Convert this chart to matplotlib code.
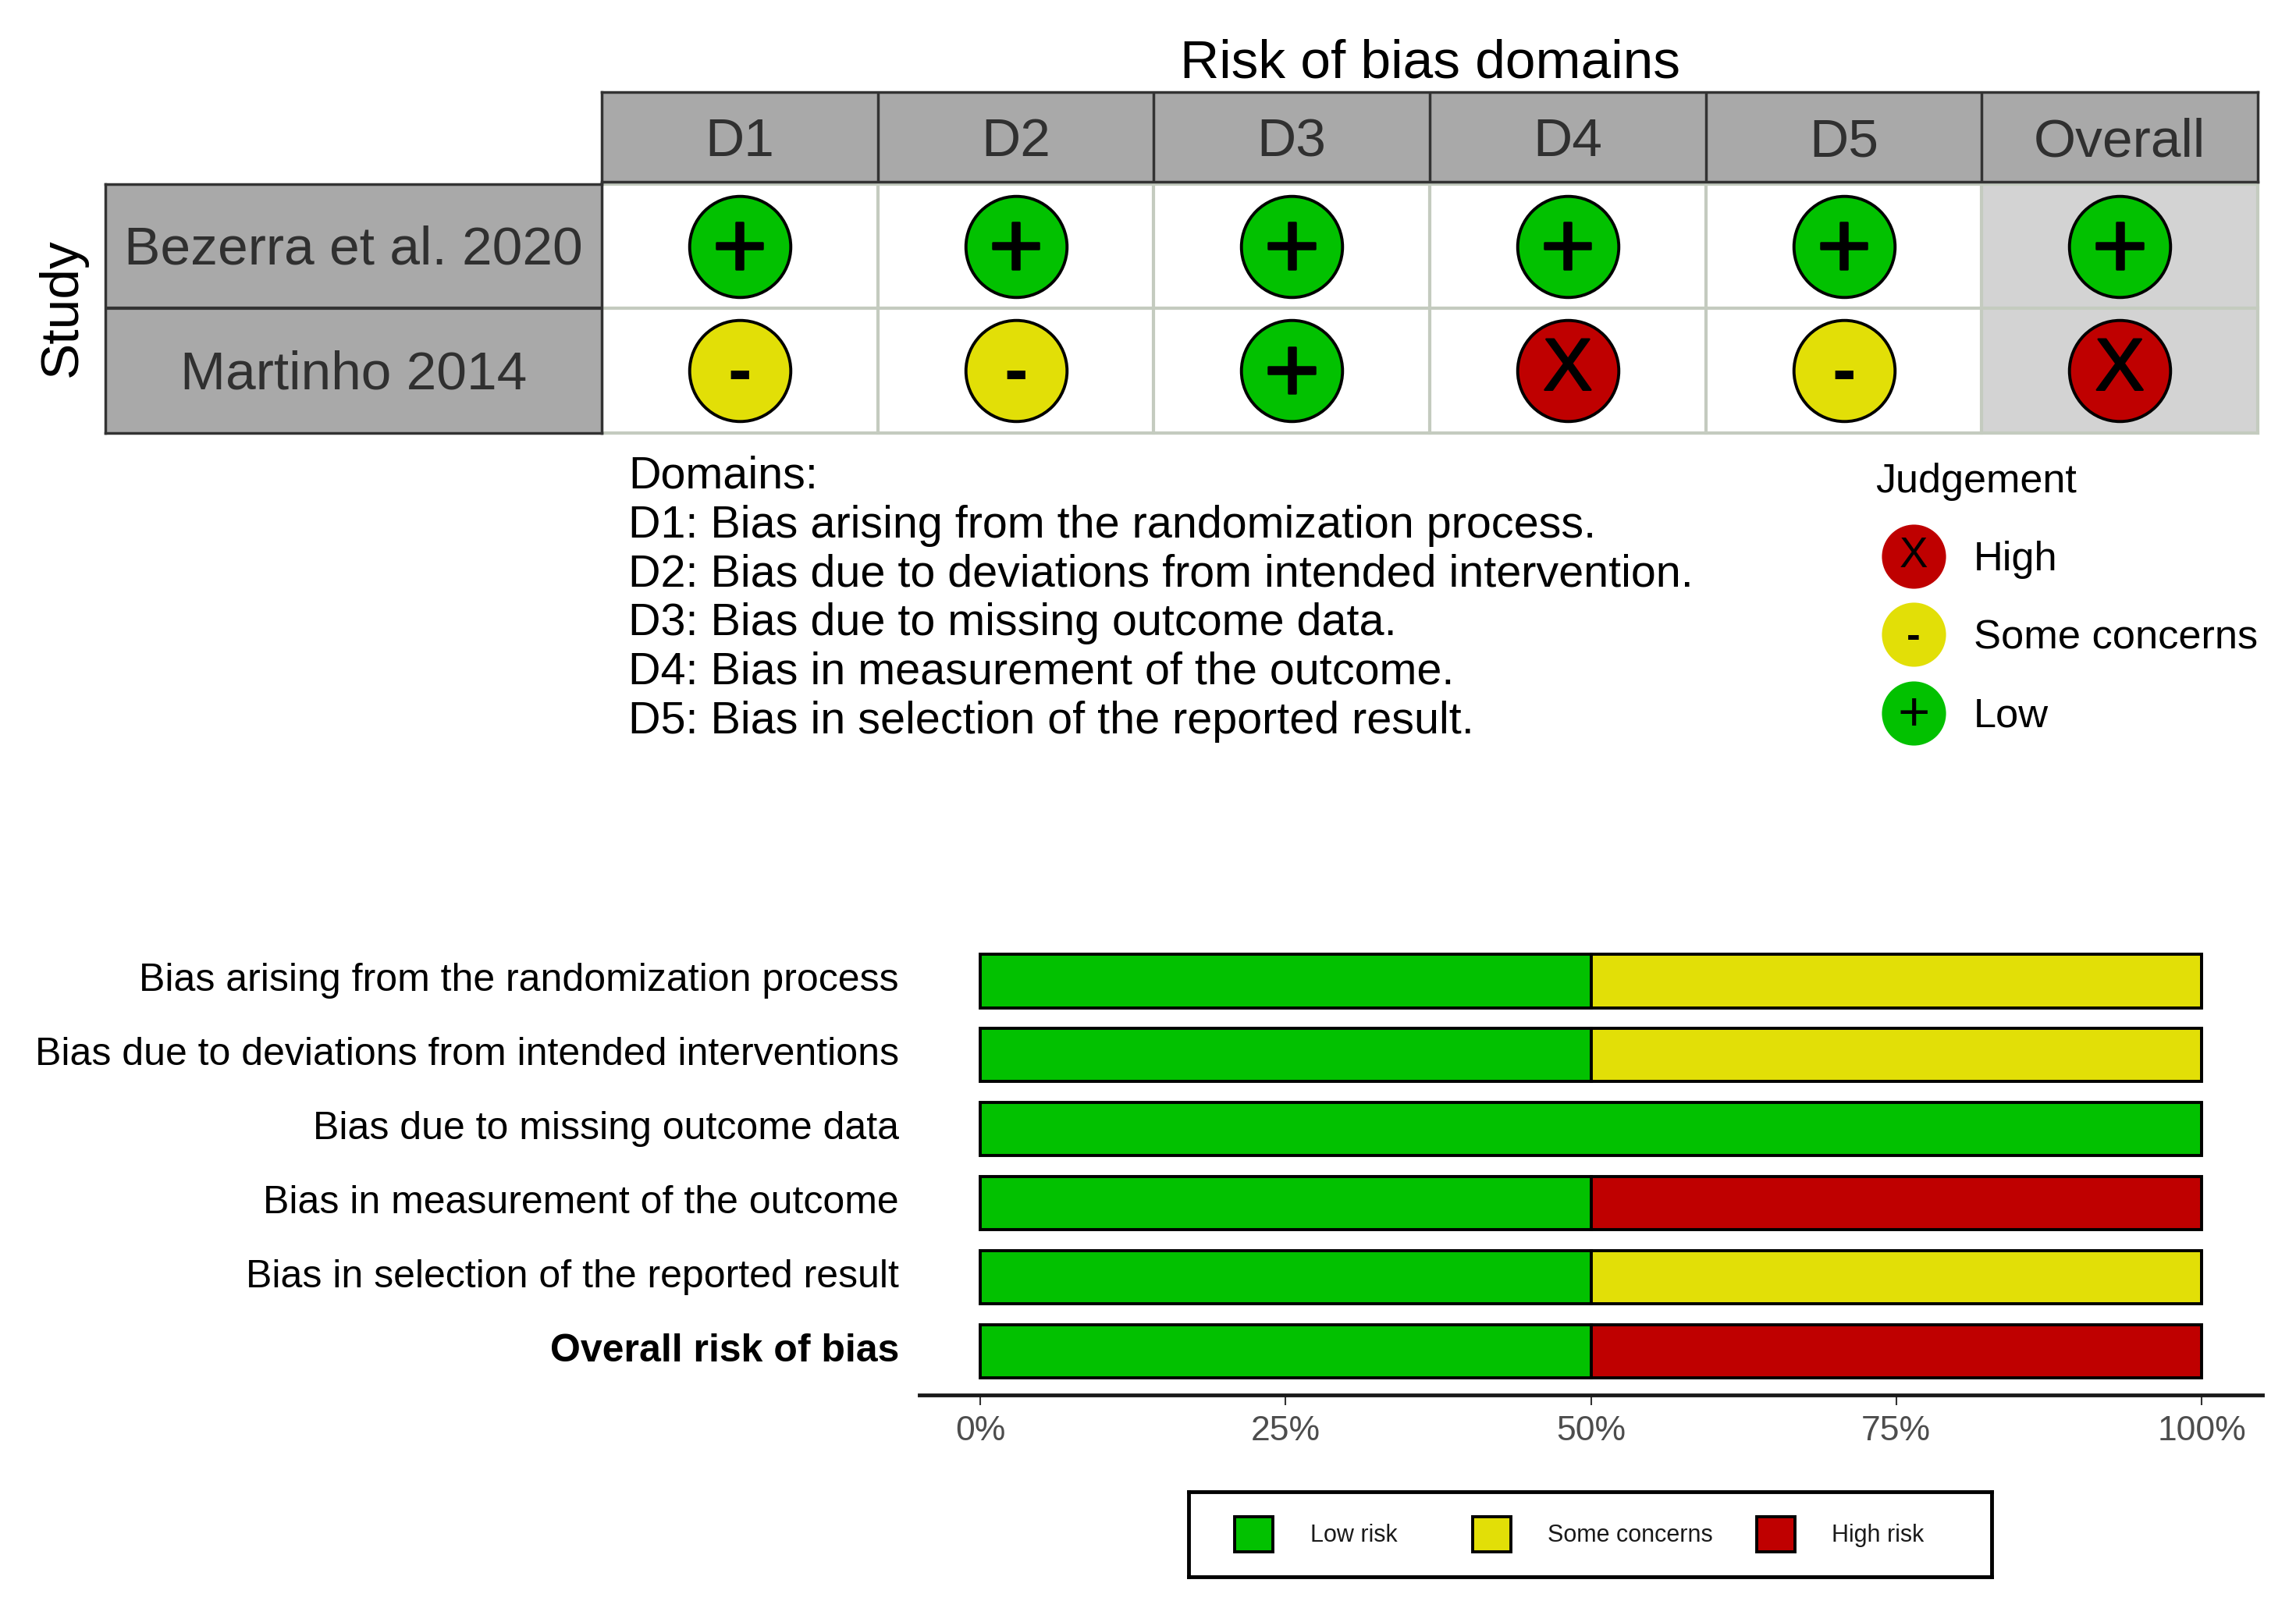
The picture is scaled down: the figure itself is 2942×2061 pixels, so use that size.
import matplotlib
matplotlib.use("Agg")
import matplotlib.pyplot as plt
import matplotlib.patheffects as pe
from matplotlib.patches import Rectangle
from matplotlib.transforms import ScaledTranslation

plt.rcParams["font.family"] = ["Liberation Sans", "DejaVu Sans"]

W, H = 2942, 2061

# -----------------------------
# Data
# -----------------------------
domains = ["D1", "D2", "D3", "D4", "D5", "Overall"]
studies = ["Bezerra et al. 2020", "Martinho 2014"]
judgements = [
    ["Low", "Low", "Low", "Low", "Low", "Low"],
    ["Some", "Some", "Low", "High", "Some", "High"],
]
domain_notes = [
    "Domains:",
    "D1: Bias arising from the randomization process.",
    "D2: Bias due to deviations from intended intervention.",
    "D3: Bias due to missing outcome data.",
    "D4: Bias in measurement of the outcome.",
    "D5: Bias in selection of the reported result.",
]
judge_levels = ["High", "Some", "Low"]
judge_labels = ["High", "Some concerns", "Low"]

bar_labels = [
    "Bias arising from the randomization process",
    "Bias due to deviations from intended interventions",
    "Bias due to missing outcome data",
    "Bias in measurement of the outcome",
    "Bias in selection of the reported result",
    "Overall risk of bias",
]
low_pct = [50, 50, 100, 50, 50, 50]
some_pct = [50, 50, 0, 0, 50, 0]
high_pct = [0, 0, 0, 50, 0, 50]
pct_ticks = [0, 25, 50, 75, 100]
bar_legend = ["Low risk", "Some concerns", "High risk"]

colours = {"Low": "#02C100", "Some": "#E2DF07", "High": "#BF0000"}
symbols = {"Low": "+", "Some": "-", "High": "X"}
symbol_shift = {"Low": 0.05, "Some": 0.035, "High": 0.0}
symbol_size = {"Low": 88, "Some": 66, "High": 68}
symbol_weight = {"Low": "normal", "Some": "bold", "High": "normal"}


def px_axes(x0, y0, x1, y1):
    # axes from pixel box, y measured from the top of the picture
    return fig.add_axes([x0 / W, 1 - y1 / H, (x1 - x0) / W, (y1 - y0) / H])


def px_text(x, y, s, **kw):
    fig.text(x / W, 1 - y / H, s, **kw)


fig = plt.figure(figsize=(W / 100, H / 100), dpi=100, facecolor="white")

# -----------------------------
# 1. Traffic light grid
# -----------------------------
ax = px_axes(771, 236, 2893, 555)
ax.set_xlim(0, len(domains))
ax.set_ylim(len(studies), 0)
ax.axis("off")
ax.add_patch(Rectangle((5, 0), 1, 2, facecolor="#D3D3D3", edgecolor="none"))
for i in range(len(domains) + 1):
    ax.axvline(i, color="#C4CBBF", lw=3, clip_on=False)
for j in range(len(studies) + 1):
    ax.axhline(j, color="#C4CBBF", lw=3, clip_on=False)

for r, row in enumerate(judgements):
    for c, level in enumerate(row):
        ax.scatter(c + 0.5, r + 0.5, s=8700, color=colours[level],
                   edgecolor="black", linewidth=2.8, zorder=3)
        t = ax.text(c + 0.5, r + 0.5 + symbol_shift[level], symbols[level], ha="center",
                    va="center", fontsize=symbol_size[level], fontweight=symbol_weight[level],
                    color="black", zorder=4)
        # thicken the regular glyphs a little, plain bold is too heavy
        if symbol_weight[level] == "normal":
            t.set_path_effects([pe.withStroke(linewidth=1.8, foreground="black")])

# header strip
ax_head = px_axes(771, 118, 2893, 233)
ax_head.set_xlim(0, len(domains))
ax_head.set_ylim(0, 1)
ax_head.set_xticks([])
ax_head.set_yticks([])
ax_head.set_facecolor("#A9A9A9")
for s in ax_head.spines.values():
    s.set_color("#333333")
    s.set_linewidth(2.5)
for i, d in enumerate(domains):
    if i > 0:
        ax_head.axvline(i, color="#333333", lw=2.5)
    ax_head.text(i + 0.5, 0.44, d, ha="center", va="center", fontsize=50, color="#303030")

# study strip
ax_side = px_axes(135, 236, 771, 555)
ax_side.set_xlim(0, 1)
ax_side.set_ylim(len(studies), 0)
ax_side.set_xticks([])
ax_side.set_yticks([])
ax_side.set_facecolor("#A9A9A9")
for s in ax_side.spines.values():
    s.set_color("#333333")
    s.set_linewidth(2.5)
for j, name in enumerate(studies):
    if j > 0:
        ax_side.axhline(j, color="#333333", lw=3)
    ax_side.text(0.5, j + 0.53, name, ha="center", va="center", fontsize=50, color="#303030")

px_text(1833, 82, "Risk of bias domains", ha="center", va="center", fontsize=50, color="black")
px_text(80, 394, "Study", ha="center", va="center", rotation=90, fontsize=50, color="black")

# domain notes
for k, line in enumerate(domain_notes):
    px_text(805, 611 + k * 62.7, line, ha="left", va="center", fontsize=41.4, color="black")

# judgement legend
px_text(2403, 617, "Judgement", ha="left", va="center", fontsize=37.5, color="black")
ax_judge = px_axes(2411, 663, 2493, 964)
ax_judge.set_xlim(0, 1)
ax_judge.set_ylim(len(judge_levels), 0)
ax_judge.axis("off")
for k, level in enumerate(judge_levels):
    ax_judge.scatter(0.5, k + 0.5, s=3500, color=colours[level], linewidth=0, clip_on=False)
    ax_judge.text(0.5, k + 0.5 + symbol_shift[level] * 0.9, symbols[level], ha="center", va="center",
                  fontsize=symbol_size[level] * 0.58, fontweight=symbol_weight[level], color="black")
    ax_judge.annotate(judge_labels[k], (1, k + 0.5), xytext=(26, -3), textcoords="offset points",
                      ha="left", va="center", fontsize=37.7, color="black", annotation_clip=False)

# -----------------------------
# 2. Summary bars
# -----------------------------
ax_bar = px_axes(1178, 1210, 2899, 1788)
ypos = list(range(len(bar_labels)))
left_some = low_pct
left_high = [a + b for a, b in zip(low_pct, some_pct)]
for vals, lefts, key in [(low_pct, [0] * 6, "Low"), (some_pct, left_some, "Some"), (high_pct, left_high, "High")]:
    ax_bar.barh(ypos, vals, left=lefts, height=0.72, color=colours[key], edgecolor="black", linewidth=2.8)
ax_bar.set_xlim(-(1256 - 1178) / 15.65, 100 + (2899 - 2821) / 15.65)
ax_bar.set_ylim(5.592, -0.5)
ax_bar.set_xticks(pct_ticks)
ax_bar.set_xticklabels([f"{p}%" for p in pct_ticks], fontsize=32, color="#4D4D4D")
ax_bar.set_yticks(ypos)
ax_bar.set_yticklabels(bar_labels, fontsize=36, color="black")
ax_bar.get_yticklabels()[-1].set_fontweight("bold")
ax_bar.tick_params(axis="y", length=0, pad=(1178 - 1152) * 0.72)
ax_bar.tick_params(axis="x", length=9, width=1.5, color="#333333", pad=10)
up = ScaledTranslation(0, 5 / 100, fig.dpi_scale_trans)
for lab in ax_bar.get_yticklabels():
    lab.set_transform(lab.get_transform() + up)
for side in ["top", "right", "left"]:
    ax_bar.spines[side].set_visible(False)
ax_bar.spines["bottom"].set_linewidth(3.5)
ax_bar.spines["bottom"].set_color("#1A1A1A")

# bar legend
ax_leg = px_axes(1523, 1912, 2552, 2021)
ax_leg.set_xlim(1523, 2552)
ax_leg.set_ylim(2021, 1912)
ax_leg.set_xticks([])
ax_leg.set_yticks([])
for s in ax_leg.spines.values():
    s.set_linewidth(3.5)
    s.set_color("black")
key_x = [1582, 1887, 2251]
text_x = [1679, 1983, 2347]
for name, key, kx, tx in zip(bar_legend, ["Low", "Some", "High"], key_x, text_x):
    ax_leg.add_patch(Rectangle((kx, 1944), 49, 45, facecolor=colours[key], edgecolor="black", linewidth=2.8))
    ax_leg.text(tx, 1968, name, ha="left", va="center", fontsize=22, color="#1A1A1A")

fig.savefig("out.png", dpi=100)
